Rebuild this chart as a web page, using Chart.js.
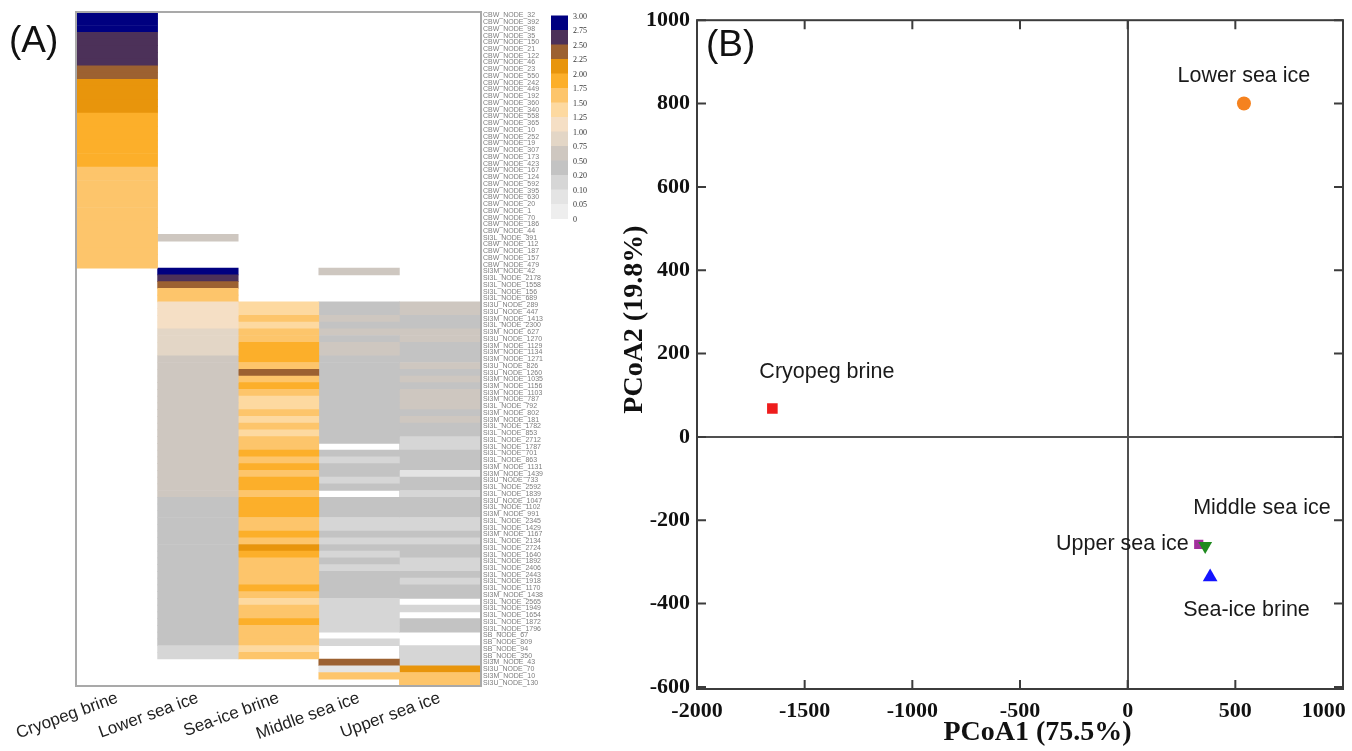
<!DOCTYPE html>
<html>
<head>
<meta charset="utf-8">
<script src="https://cdn.jsdelivr.net/npm/chart.js@4.4.1/dist/chart.umd.min.js"></script>
<style>
  html, body { margin: 0; padding: 0; background: #fff; }
  #wrap { position: relative; width: 1352px; height: 751px; overflow: hidden; }
  #heat { position: absolute; left: 0; top: 0; }
  #pcoa { position: absolute; left: 600px; top: 0; }
  .panel { position: absolute; font-family: 'Liberation Sans', Arial, sans-serif; font-size: 37px; line-height: 1; color: #111; }
</style>
</head>
<body>
<div id="wrap">
  <canvas id="heat" width="600" height="751"></canvas>
  <canvas id="pcoa" width="752" height="751"></canvas>
  <div class="panel" style="left:9px;top:21px">(A)</div>
  <div class="panel" style="left:706px;top:25px">(B)</div>
</div>
<script>
// ---- heatmap data (A) ----
var samples = ['Cryopeg brine', 'Lower sea ice', 'Sea-ice brine', 'Middle sea ice', 'Upper sea ice'];

var nodes = [
  'CBW_NODE_32', 'CBW_NODE_392', 'CBW_NODE_98', 'CBW_NODE_35', 'CBW_NODE_150',
  'CBW_NODE_21', 'CBW_NODE_122', 'CBW_NODE_46', 'CBW_NODE_23', 'CBW_NODE_550',
  'CBW_NODE_242', 'CBW_NODE_449', 'CBW_NODE_192', 'CBW_NODE_360', 'CBW_NODE_340',
  'CBW_NODE_558', 'CBW_NODE_365', 'CBW_NODE_10', 'CBW_NODE_252', 'CBW_NODE_19',
  'CBW_NODE_307', 'CBW_NODE_173', 'CBW_NODE_423', 'CBW_NODE_167', 'CBW_NODE_124',
  'CBW_NODE_592', 'CBW_NODE_395', 'CBW_NODE_630', 'CBW_NODE_20', 'CBW_NODE_1',
  'CBW_NODE_70', 'CBW_NODE_186', 'CBW_NODE_44', 'SI3L_NODE_391', 'CBW_NODE_112',
  'CBW_NODE_187', 'CBW_NODE_157', 'CBW_NODE_479', 'SI3M_NODE_42', 'SI3L_NODE_2178',
  'SI3L_NODE_1558', 'SI3L_NODE_156', 'SI3L_NODE_689', 'SI3U_NODE_289', 'SI3U_NODE_447',
  'SI3M_NODE_1413', 'SI3L_NODE_2300', 'SI3M_NODE_627', 'SI3U_NODE_1270', 'SI3M_NODE_1129',
  'SI3M_NODE_1134', 'SI3M_NODE_1271', 'SI3U_NODE_826', 'SI3U_NODE_1260', 'SI3M_NODE_1035',
  'SI3M_NODE_1156', 'SI3M_NODE_1103', 'SI3M_NODE_787', 'SI3L_NODE_792', 'SI3M_NODE_802',
  'SI3M_NODE_181', 'SI3L_NODE_1782', 'SI3L_NODE_853', 'SI3L_NODE_2712', 'SI3L_NODE_1787',
  'SI3L_NODE_701', 'SI3L_NODE_863', 'SI3M_NODE_1131', 'SI3M_NODE_1439', 'SI3U_NODE_733',
  'SI3L_NODE_2592', 'SI3L_NODE_1839', 'SI3U_NODE_1047', 'SI3L_NODE_1102', 'SI3M_NODE_991',
  'SI3L_NODE_2345', 'SI3L_NODE_1429', 'SI3M_NODE_1167', 'SI3L_NODE_2134', 'SI3L_NODE_2724',
  'SI3L_NODE_1640', 'SI3L_NODE_1892', 'SI3L_NODE_2406', 'SI3L_NODE_2443', 'SI3L_NODE_1918',
  'SI3L_NODE_1170', 'SI3M_NODE_1438', 'SI3L_NODE_2565', 'SI3L_NODE_1949', 'SI3L_NODE_1654',
  'SI3L_NODE_1872', 'SI3L_NODE_1796', 'SB_NODE_67', 'SB_NODE_809', 'SB_NODE_94',
  'SB_NODE_350', 'SI3M_NODE_43', 'SI3U_NODE_70', 'SI3M_NODE_10', 'SI3U_NODE_130'
];

// one value per node, 0 = absent (white)
var cryopeg = [
  2.9, 2.9, 2.9, 2.6, 2.6, 2.6, 2.6, 2.6, 2.4, 2.4,
  2.1, 2.1, 2.1, 2.1, 2.1, 1.9, 1.9, 1.9, 1.9, 1.9,
  1.9, 1.9, 1.9, 1.6, 1.6, 1.6, 1.6, 1.6, 1.6, 1.6,
  1.6, 1.6, 1.6, 1.6, 1.6, 1.6, 1.6, 1.6, 0, 0,
  0, 0, 0, 0, 0, 0, 0, 0, 0, 0,
  0, 0, 0, 0, 0, 0, 0, 0, 0, 0,
  0, 0, 0, 0, 0, 0, 0, 0, 0, 0,
  0, 0, 0, 0, 0, 0, 0, 0, 0, 0,
  0, 0, 0, 0, 0, 0, 0, 0, 0, 0,
  0, 0, 0, 0, 0, 0, 0, 0, 0, 0
];
var lowerIce = [
  0, 0, 0, 0, 0, 0, 0, 0, 0, 0,
  0, 0, 0, 0, 0, 0, 0, 0, 0, 0,
  0, 0, 0, 0, 0, 0, 0, 0, 0, 0,
  0, 0, 0, 0.6, 0, 0, 0, 0, 2.9, 2.6,
  2.4, 1.6, 1.6, 1.1, 1.1, 1.1, 1.1, 0.9, 0.9, 0.9,
  0.9, 0.6, 0.6, 0.6, 0.6, 0.6, 0.6, 0.6, 0.6, 0.6,
  0.6, 0.6, 0.6, 0.6, 0.6, 0.6, 0.6, 0.6, 0.6, 0.6,
  0.6, 0.6, 0.3, 0.3, 0.3, 0.3, 0.3, 0.3, 0.3, 0.3,
  0.3, 0.3, 0.3, 0.3, 0.3, 0.3, 0.3, 0.3, 0.3, 0.3,
  0.3, 0.3, 0.3, 0.3, 0.15, 0.15, 0, 0, 0, 0
];
var brine = [
  0, 0, 0, 0, 0, 0, 0, 0, 0, 0,
  0, 0, 0, 0, 0, 0, 0, 0, 0, 0,
  0, 0, 0, 0, 0, 0, 0, 0, 0, 0,
  0, 0, 0, 0, 0, 0, 0, 0, 0, 0,
  0, 0, 0, 1.4, 1.4, 1.6, 1.4, 1.6, 1.6, 1.9,
  1.9, 1.9, 1.6, 2.4, 1.6, 1.9, 1.6, 1.4, 1.4, 1.6,
  1.4, 1.6, 1.4, 1.6, 1.6, 1.9, 1.6, 1.9, 1.6, 1.9,
  1.9, 1.6, 1.9, 1.9, 1.9, 1.6, 1.6, 1.9, 1.6, 2.1,
  1.9, 1.6, 1.6, 1.6, 1.6, 1.9, 1.6, 1.4, 1.6, 1.6,
  1.9, 1.6, 1.6, 1.6, 1.4, 1.6, 0, 0, 0, 0
];
var middleIce = [
  0, 0, 0, 0, 0, 0, 0, 0, 0, 0,
  0, 0, 0, 0, 0, 0, 0, 0, 0, 0,
  0, 0, 0, 0, 0, 0, 0, 0, 0, 0,
  0, 0, 0, 0, 0, 0, 0, 0, 0.6, 0,
  0, 0, 0, 0.3, 0.3, 0.6, 0.3, 0.6, 0.3, 0.6,
  0.6, 0.3, 0.3, 0.3, 0.3, 0.3, 0.3, 0.3, 0.3, 0.3,
  0.3, 0.3, 0.3, 0.3, 0, 0.3, 0.15, 0.3, 0.3, 0.15,
  0.3, 0, 0.3, 0.3, 0.3, 0.15, 0.15, 0.3, 0.15, 0.3,
  0.15, 0.3, 0.15, 0.3, 0.3, 0.3, 0.3, 0.15, 0.15, 0.15,
  0.15, 0.15, 0, 0.15, 0, 0, 2.4, 0.07, 1.6, 0
];
var upperIce = [
  0, 0, 0, 0, 0, 0, 0, 0, 0, 0,
  0, 0, 0, 0, 0, 0, 0, 0, 0, 0,
  0, 0, 0, 0, 0, 0, 0, 0, 0, 0,
  0, 0, 0, 0, 0, 0, 0, 0, 0, 0,
  0, 0, 0, 0.6, 0.6, 0.3, 0.3, 0.6, 0.6, 0.3,
  0.3, 0.3, 0.6, 0.3, 0.6, 0.3, 0.6, 0.6, 0.6, 0.3,
  0.6, 0.3, 0.3, 0.15, 0.15, 0.3, 0.3, 0.3, 0.07, 0.3,
  0.3, 0.15, 0.3, 0.3, 0.3, 0.15, 0.15, 0.3, 0.15, 0.3,
  0.3, 0.15, 0.15, 0.3, 0.15, 0.3, 0.3, 0, 0.15, 0,
  0.3, 0.3, 0, 0, 0.15, 0.15, 0.15, 2.1, 1.6, 1.6
];
var columns = [cryopeg, lowerIce, brine, middleIce, upperIce];

// colour key
var scaleBreaks = [3.00, 2.75, 2.50, 2.25, 2.00, 1.75, 1.50, 1.25, 1.00, 0.75, 0.50, 0.20, 0.10, 0.05, 0];
var scaleColors = ['#000080', '#4c3159', '#9c6131', '#e8950c', '#fcaf2a', '#fdc56b', '#fdd9a0',
                   '#f5dfc5', '#e3d6c6', '#cec7c0', '#c3c3c3', '#d6d6d6', '#e4e4e4', '#eeeeee'];

// ---- PCoA data (B) ----
var sampleNames = ['Cryopeg brine', 'Lower sea ice', 'Middle sea ice', 'Upper sea ice', 'Sea-ice brine'];
var pcoa1 = [-1650, 540, 360, 330, 383];
var pcoa2 = [68, 800, -262, -258, -336];
var xTicks = [-2000, -1500, -1000, -500, 0, 500, 1000];
var yTicks = [-600, -400, -200, 0, 200, 400, 600, 800, 1000];

function colourFor(v) {
  for (var i = 0; i < scaleColors.length; i++) {
    if (v > scaleBreaks[i + 1]) return scaleColors[i];
  }
  return '#ffffff';
}

// frame round the heatmap + the colour key on the right
var heatFrame = {
  id: 'heatFrame',
  afterDraw: function(chart) {
    var a = chart.chartArea, ctx = chart.ctx;
    ctx.save();
    ctx.strokeStyle = '#a9a9a9';
    ctx.lineWidth = 2;
    ctx.strokeRect(a.left - 1, a.top, a.right - a.left + 2, a.bottom - a.top);

    var keyTop = 15.5, keyH = 14.5, keyLeft = 551, keyW = 17;
    scaleColors.forEach(function(c, i) {
      ctx.fillStyle = c;
      ctx.fillRect(keyLeft, keyTop + i * keyH, keyW, keyH + 0.5);
    });
    ctx.fillStyle = '#333';
    ctx.font = '8px "Liberation Serif"';
    ctx.textBaseline = 'middle';
    scaleBreaks.forEach(function(b, i) {
      ctx.fillText(b === 0 ? '0' : b.toFixed(2), keyLeft + 22, keyTop + i * keyH + 1);
    });
    ctx.restore();
  }
};

var heatSets = columns.map(function(col, c) {
  return {
    label: samples[c],
    data: col.map(function(v) { return v > 0 ? [c, c + 1] : null; }),
    backgroundColor: col.map(colourFor),
    grouped: false,
    barPercentage: 1,
    categoryPercentage: 1,
    borderWidth: 0
  };
});

new Chart(document.getElementById('heat'), {
  type: 'bar',
  data: { labels: nodes, datasets: heatSets },
  options: {
    indexAxis: 'y',
    responsive: false,
    animation: false,
    layout: { padding: { left: 77, top: 12, right: 0, bottom: 0 } },
    plugins: { legend: { display: false }, tooltip: { enabled: false } },
    scales: {
      x: {
        type: 'linear', min: 0, max: 5, position: 'bottom',
        grid: { display: false, drawTicks: false }, border: { display: false },
        afterBuildTicks: function(s) {
          s.ticks = samples.map(function(n, i) { return { value: i + 0.5 }; });
        },
        afterFit: function(s) { s.height = 65; s.paddingLeft = 0; s.paddingRight = 0; },
        ticks: {
          minRotation: 20, maxRotation: 20, padding: 2, color: '#222',
          font: { family: 'Liberation Sans', size: 17 },
          callback: function(v, i) { return samples[i]; }
        }
      },
      y: {
        type: 'category', position: 'right',
        grid: { display: false, drawTicks: false }, border: { display: false },
        afterFit: function(s) { s.width = 120; s.paddingTop = 0; s.paddingBottom = 0; },
        ticks: { autoSkip: false, padding: 3, color: '#7d7d7d', font: { family: 'Liberation Sans', size: 7 } }
      }
    }
  },
  plugins: [heatFrame]
});

// ---- PCoA scatter ----
var markerStyle = {
  'Cryopeg brine':  { color: '#ee1c1c', shape: 'rect', r: 7.5, rot: 0 },
  'Lower sea ice':  { color: '#f5821f', shape: 'circle', r: 7, rot: 0 },
  'Middle sea ice': { color: '#1f8a1f', shape: 'triangle', r: 8, rot: 180 },
  'Upper sea ice':  { color: '#a2309c', shape: 'rect', r: 6.5, rot: 0 },
  'Sea-ice brine':  { color: '#1414ff', shape: 'triangle', r: 8.5, rot: 0 }
};
// label offset from its marker: dx, dy, alignment
var labelAt = {
  'Cryopeg brine':  [-13, -36, 'left'],
  'Lower sea ice':  [0, -27, 'center'],
  'Middle sea ice': [-12, -38, 'left'],
  'Upper sea ice':  [-10, 0, 'right'],
  'Sea-ice brine':  [-27, 33, 'left']
};

var pcoaFrame = {
  id: 'pcoaFrame',
  afterDraw: function(chart) {
    var a = chart.chartArea, ctx = chart.ctx;
    var xs = chart.scales.x, ys = chart.scales.y;
    ctx.save();
    ctx.strokeStyle = '#3c3c3c';
    ctx.lineWidth = 2;
    ctx.strokeRect(a.left, a.top, a.right - a.left, a.bottom - a.top);
    ctx.beginPath();
    xTicks.forEach(function(v) {
      var px = xs.getPixelForValue(v);
      ctx.moveTo(px, a.bottom); ctx.lineTo(px, a.bottom - 9);
      ctx.moveTo(px, a.top); ctx.lineTo(px, a.top + 9);
    });
    yTicks.forEach(function(v) {
      var py = ys.getPixelForValue(v);
      ctx.moveTo(a.left, py); ctx.lineTo(a.left + 9, py);
      ctx.moveTo(a.right, py); ctx.lineTo(a.right - 9, py);
    });
    ctx.stroke();

    // sample names beside the markers
    ctx.fillStyle = '#1a1a1a';
    ctx.font = '21.5px "Liberation Sans"';
    ctx.textBaseline = 'middle';
    sampleNames.forEach(function(n, i) {
      var pt = chart.getDatasetMeta(i).data[0];
      var o = labelAt[n];
      ctx.textAlign = o[2];
      ctx.fillText(n, pt.x + o[0], pt.y + o[1]);
    });
    ctx.restore();
  }
};

var zeroLine = function(c) {
  return c.tick && c.tick.value === 0 ? '#505050' : 'rgba(0,0,0,0)';
};
var tickFont = { family: 'Liberation Serif', size: 22, weight: 'bold' };
var titleFont = { family: 'Liberation Serif', size: 28, weight: 'bold' };
var nb = '\u00a0';

new Chart(document.getElementById('pcoa'), {
  type: 'scatter',
  data: {
    datasets: sampleNames.map(function(n, i) {
      var m = markerStyle[n];
      return {
        label: n,
        data: [{ x: pcoa1[i], y: pcoa2[i] }],
        pointStyle: m.shape,
        pointRadius: m.r,
        rotation: m.rot,
        backgroundColor: m.color,
        borderColor: m.color,
        borderWidth: 0
      };
    })
  },
  options: {
    responsive: false,
    animation: false,
    layout: { padding: { left: 14, top: 20, right: 9, bottom: 0 } },
    plugins: { legend: { display: false }, tooltip: { enabled: false } },
    scales: {
      x: {
        type: 'linear', min: -2000, max: 1000,
        afterBuildTicks: function(s) { s.ticks = xTicks.map(function(v) { return { value: v }; }); },
        afterFit: function(s) { s.height = 62; s.paddingLeft = 0; s.paddingRight = 0; },
        grid: { drawTicks: false, color: zeroLine, lineWidth: 2 },
        border: { display: false },
        ticks: {
          maxRotation: 0, padding: 9, color: '#111', font: tickFont,
          callback: function(v) { return v === 1000 ? '1000' + nb.repeat(7) : String(v); }
        },
        title: { display: true, text: nb.repeat(5) + 'PCoA1 (75.5%)', color: '#111', font: titleFont, padding: { top: 0, bottom: 1 } }
      },
      y: {
        type: 'linear', min: -605, max: 1000,
        afterBuildTicks: function(s) { s.ticks = yTicks.map(function(v) { return { value: v }; }); },
        afterFit: function(s) { s.width = 83; },
        grid: { drawTicks: false, color: zeroLine, lineWidth: 2 },
        border: { display: false },
        ticks: { padding: 7, color: '#111', font: tickFont, callback: function(v) { return String(v); } },
        title: { display: true, text: nb.repeat(10) + 'PCoA2 (19.8%)', color: '#111', font: titleFont, padding: { top: 4, bottom: 4 } }
      }
    }
  },
  plugins: [pcoaFrame]
});
</script>
</body>
</html>
